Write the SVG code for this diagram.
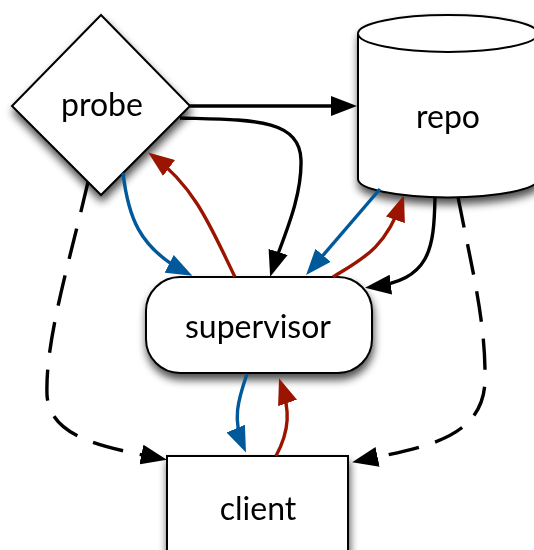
<svg xmlns="http://www.w3.org/2000/svg" width="534" height="550" viewBox="0 0 534 550">
  <defs>
    <filter id="shadow" x="-20%" y="-20%" width="150%" height="150%">
      <feGaussianBlur in="SourceAlpha" stdDeviation="4.5"/>
      <feOffset dx="1" dy="6" result="blur"/>
      <feComponentTransfer><feFuncA type="linear" slope="0.7"/></feComponentTransfer>
      <feMerge><feMergeNode/><feMergeNode in="SourceGraphic"/></feMerge>
    </filter>
    <marker id="ah-black" markerUnits="userSpaceOnUse" viewBox="0 0 26 20" markerWidth="26" markerHeight="20" refX="20" refY="10" orient="auto">
      <path d="M0,0 L26,10 L0,20 z" fill="#000"/>
    </marker>
    <marker id="ah-blue" markerUnits="userSpaceOnUse" viewBox="0 0 26 20" markerWidth="26" markerHeight="20" refX="20" refY="10" orient="auto">
      <path d="M0,0 L26,10 L0,20 z" fill="#00599b"/>
    </marker>
    <marker id="ah-red" markerUnits="userSpaceOnUse" viewBox="0 0 26 20" markerWidth="26" markerHeight="20" refX="20" refY="10" orient="auto">
      <path d="M0,0 L26,10 L0,20 z" fill="#9a1400"/>
    </marker>
  </defs>
  <style>
    .node { fill: #fff; stroke: #000; stroke-width: 2; }
    .label { font-family: Lato, "Open Sans", "Liberation Sans", sans-serif; font-size: 32px; fill: #000; text-anchor: middle; }
    .edge { fill: none; stroke-width: 3.4; }
    .black { stroke: #000; marker-end: url(#ah-black); }
    .blue { stroke: #00599b; marker-end: url(#ah-blue); }
    .red { stroke: #9a1400; marker-end: url(#ah-red); }
    .dashed { stroke-dasharray: 31 17; }
  </style>

  <!-- nodes -->
  <g id="probe" filter="url(#shadow)">
    <polygon class="node" points="101,15 190,106 101,195 12,106"/>
    <text class="label" x="102" y="116">probe</text>
  </g>
  <g id="repo" filter="url(#shadow)">
    <path class="node" d="M358,33.5 L358,179 A90,18.5 0 0 0 538,179 L538,33.5 A90,18.5 0 0 0 358,33.5 Z"/>
    <path class="node" fill="none" d="M358,33.5 A90,18.5 0 0 0 538,33.5"/>
    <text class="label" x="448" y="128">repo</text>
  </g>
  <g id="supervisor" filter="url(#shadow)">
    <rect class="node" x="146" y="277" width="226" height="96" rx="34" ry="34"/>
    <text class="label" x="258" y="338">supervisor</text>
  </g>
  <g id="client" filter="url(#shadow)">
    <rect class="node" x="167" y="456" width="181" height="110"/>
    <text class="label" x="258" y="520">client</text>
  </g>

  <!-- connectors -->
  <g id="connectors">
    <path class="edge black" d="M190,106 L351,106"/>
    <path class="edge black" d="M180,118 C250,120 300,118 301,160 C302,200 282,240 272,271"/>
    <path class="edge blue" d="M123,173 C128,215 138,248 187,273"/>
    <path class="edge red" d="M235,277 C212,230 196,188 153,156"/>
    <path class="edge blue" d="M380,189 L310,270.5"/>
    <path class="edge red" d="M333,277 C360,260 385,250 402,201"/>
    <path class="edge black" d="M435,197 C434,250 430,280 371,287"/>
    <path class="edge black dashed" d="M88,182 C70,260 45,340 47,395 C50,440 110,448 161,458.6"/>
    <path class="edge black dashed" d="M458,197 C470,260 486,320 485,380 C484,440 420,448 358,461"/>
    <path class="edge blue" d="M247,374 C238,400 232,420 243.6,447"/>
    <path class="edge red" d="M276,456 C290,430 290,410 281,384"/>
  </g>
</svg>
